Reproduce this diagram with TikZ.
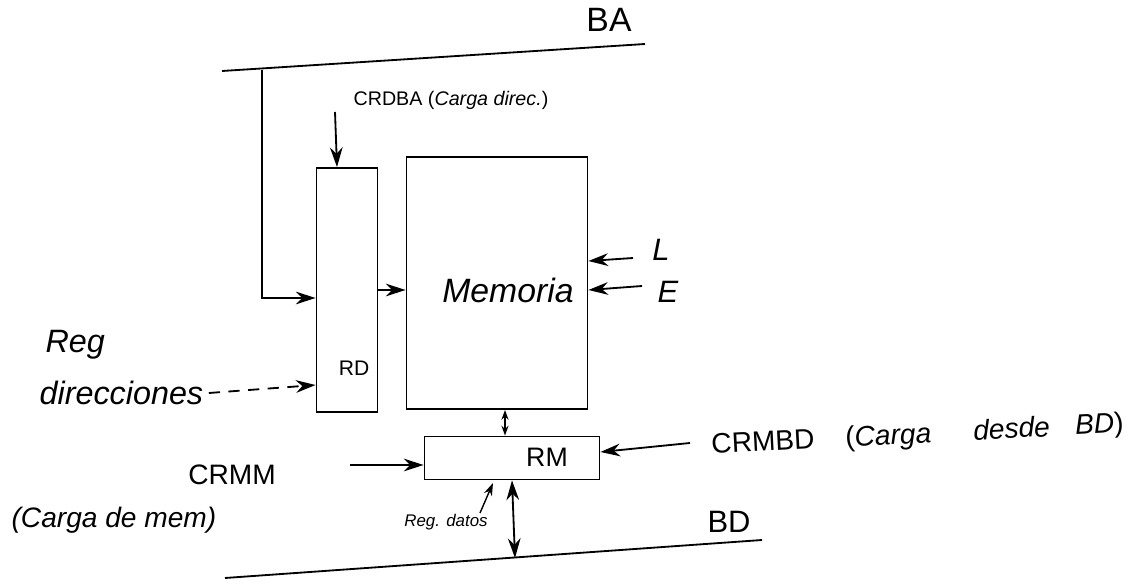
\documentclass[tikz,border=0pt]{standalone}
\usepackage{fontspec}
\setmainfont{Liberation Sans}
\usetikzlibrary{arrows.meta,calc}
\begin{document}
\begin{tikzpicture}[x=0.025cm, y=-0.025cm, line width=1.3pt,
	box/.style={draw, rectangle, inner sep=0pt},
	lbl/.style={font=\fontsize{18}{20}\selectfont},
	hand/.style={font=\fontsize{20}{22}\selectfont\itshape},
	>={Stealth[length=14pt, width=9pt]}]
	\useasboundingbox (0,0) rectangle (1146,584);

	% buses
	\coordinate (ba1) at (222,71);
	\coordinate (ba2) at (645,44);
	\coordinate (bd1) at (225,578);
	\coordinate (bd2) at (762,540);
	\draw (ba1) -- (ba2);
	\draw (bd1) -- (bd2);
	\node[lbl, font=\fontsize{24}{26}\selectfont] (ba) at (609,20) {BA};
	\node[lbl, font=\fontsize{22}{24}\selectfont] (bd) at (729,522) {BD};

	% registers and memory
	\node[box, minimum width=1.525cm, minimum height=6.1cm] (rd) at (347,290) {};
	\node[lbl, font=\fontsize{15}{17}\selectfont] (rdtxt) at (354,368) {RD};
	\node[box, minimum width=4.525cm, minimum height=6.3cm] (mem) at (497,283) {};
	\node[hand, font=\fontsize{24}{26}\selectfont\itshape] (memtxt) at (508,290) {Memoria};
	\node[box, minimum width=4.375cm, minimum height=1.075cm] (rm) at (512,458) {};
	\node[lbl, font=\fontsize{19}{21}\selectfont] (rmtxt) at (547,457) {RM};

	% address path
	\coordinate (tap) at (262,70);
	\draw[->] (tap) |- ($(rd.west)+(0,8)$);
	\draw[->] (rd.east) -- (rd.east -| mem.west);
	\node[lbl, anchor=west, font=\fontsize{14}{16}\selectfont] (crdba) at (348,100) {CRDBA ({\itshape Carga direc.})};
	\coordinate (crdbain) at (335,112);
	\draw[->] (crdbain) -- ($(rd.north)+(-10,0)$);

	% read / write
	\node[hand, font=\fontsize{22}{24}\selectfont\itshape] (l) at (661,250) {L};
	\node[hand, font=\fontsize{22}{24}\selectfont\itshape] (e) at (668,292) {E};
	\draw[->] (633,258) -- ($(mem.east)+(0,-22)$);
	\draw[->] (642,286) -- ($(mem.east)+(0,7)$);

	% reg direcciones
	\node[hand, anchor=west, font=\fontsize{23}{25}\selectfont\itshape] (reg) at (40,345) {Reg};
	\node[hand, anchor=west, font=\fontsize{23}{25}\selectfont\itshape] (dir) at (34,393) {direcciones};
	\draw[->, dash pattern=on 8pt off 6pt] (dir.east) -- ($(rd.west)+(0,95)$);

	% data path
	\draw[{Stealth[length=7pt, width=5pt]}-{Stealth[length=7pt, width=5pt]}] ($(mem.south)+(8,0)$) -- ($(rm.north)+(-7,0)$);
	\coordinate (bdtap) at (515,558);
	\draw[<->] (rm.south) -- (bdtap);
	\coordinate (crmmin) at (350,465);
	\draw[->] (crmmin) -- (rm.west |- crmmin);
	\node[lbl, font=\fontsize{20}{22}\selectfont] (crmm) at (232,475) {CRMM};
	\node[hand, anchor=west] (crmmtxt) at (6,520) {(Carga de mem)};
	\coordinate (crmbdin) at (690,443);
	\draw[->] (crmbdin) -- ($(rm.east)+(0,-6)$);
	\node[lbl, anchor=west, rotate=3, font=\fontsize{20}{22}\selectfont] (crmbd) at (706,447) {CRMBD\hspace{1.1em}({\itshape Carga\hspace{1.5em}desde\hspace{0.9em}BD})};
	\node[hand, font=\fontsize{12}{14}\selectfont\itshape] (regdat) at (446,522) {Reg. datos};
	\draw[->, line width=1pt, >={Stealth[length=9pt, width=6pt]}] (480,513) -- (493,483);
\end{tikzpicture}
\end{document}
